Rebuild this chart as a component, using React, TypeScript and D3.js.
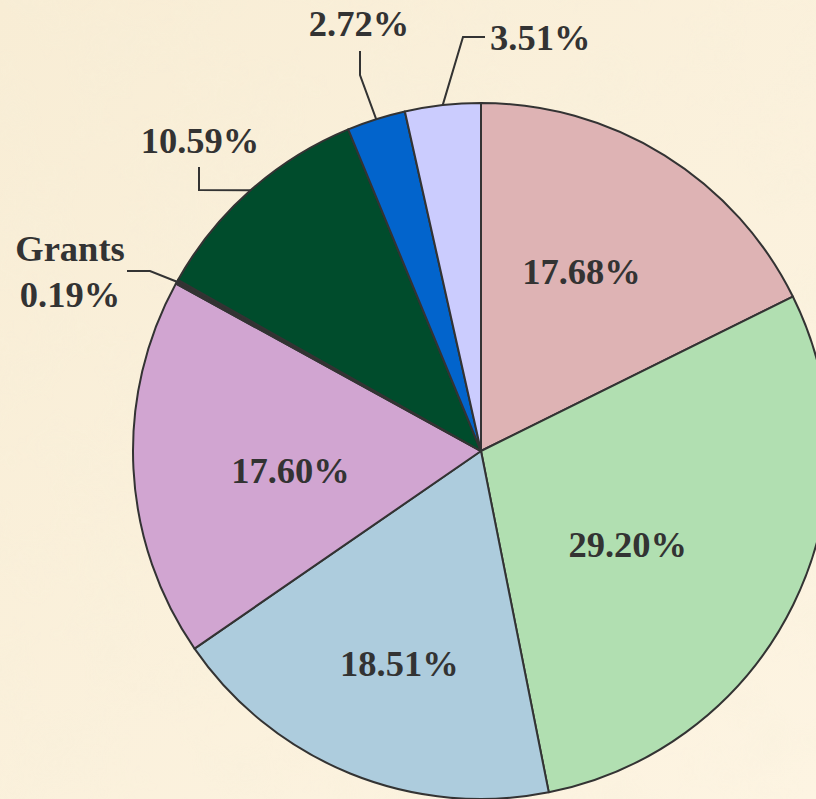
import React from 'react';
import * as d3 from 'd3';

// ---- data ----
const categories = ['Slice A', 'Slice B', 'Slice C', 'Slice D', 'Grants', 'Slice F', 'Slice G', 'Slice H'];
const values = [17.68, 29.2, 18.51, 17.6, 0.19, 10.59, 2.72, 3.51];
const valueLabels = ['17.68%', '29.20%', '18.51%', '17.60%', '0.19%', '10.59%', '2.72%', '3.51%'];
const nameLabels = ['', '', '', '', 'Grants', '', '', ''];
const colors = ['#DEB3B4', '#B1DFB1', '#ADCCDD', '#D1A5D1', '#333333', '#004C2C', '#0264CC', '#CBCCFE'];

// ---- layout ----
const W = 816;
const H = 799;
const CX = 481;
const CY = 451;
const R = 348;
const FONT = '"Liberation Serif", "Times New Roman", serif';
const FS = 36.5;
const TEXT = '#333333';

// inner label placement (fraction of radius, angle tweak in degrees)
const innerPlace: Record<number, { rf: number; da: number }> = {
  0: { rf: 0.59, da: -2.5 },
  1: { rf: 0.5, da: 6.3 },
  2: { rf: 0.655, da: -1.1 },
  3: { rf: 0.55, da: -2.8 },
};

// outer (callout) label layout: elbow, end of leader, text anchor
const outer: Record<number, { elbow: [number, number]; end: [number, number]; tx: number; ty: number; anchor: 'start' | 'middle' | 'end' }> = {
  4: { elbow: [150, 271], end: [127, 271], tx: 70, ty: 261, anchor: 'middle' },
  5: { elbow: [199, 190], end: [199, 167], tx: 200, ty: 153, anchor: 'middle' },
  6: { elbow: [360, 75], end: [360, 51], tx: 359, ty: 36, anchor: 'middle' },
  7: { elbow: [463, 37], end: [485, 37], tx: 490, ty: 50, anchor: 'start' },
};

export default function App() {
  const pie = d3
    .pie<number>()
    .sort(null)
    .value((d) => d)
    .startAngle(0)
    .endAngle(2 * Math.PI);
  const arcs = pie(values);
  const arc = d3.arc<d3.PieArcDatum<number>>().innerRadius(0).outerRadius(R);

  return (
    <svg
      width={W}
      height={H}
      viewBox={`0 0 ${W} ${H}`}
      style={{ position: 'absolute', left: 0, top: 0, display: 'block' }}
    >
      <defs>
        <linearGradient id="bgGrad" x1="0" y1="0" x2="1" y2="1">
          <stop offset="0" stopColor="#F8EDD5" />
          <stop offset="1" stopColor="#FDF4E2" />
        </linearGradient>
        <filter id="paper" x="0" y="0" width="100%" height="100%">
          <feTurbulence type="fractalNoise" baseFrequency="0.014" numOctaves={4} seed={7} result="noise" />
          <feColorMatrix
            in="noise"
            type="matrix"
            values="0 0 0 0 0.91  0 0 0 0 0.86  0 0 0 0 0.70  0 0 0 1.1 -0.47"
          />
        </filter>
      </defs>
      <rect x={0} y={0} width={W} height={H} fill="url(#bgGrad)" />
      <rect x={0} y={0} width={W} height={H} filter="url(#paper)" opacity={0.45} />

      <g transform={`translate(${CX},${CY})`}>
        {arcs.map((a, i) => (
          <path
            key={categories[i]}
            d={arc(a) || ''}
            fill={colors[i]}
            stroke="#333333"
            strokeWidth={2}
            strokeLinejoin="round"
          />
        ))}
      </g>

      {/* inner labels */}
      {arcs.map((a, i) => {
        const p = innerPlace[i];
        if (!p) return null;
        const ang = (a.startAngle + a.endAngle) / 2 + (p.da * Math.PI) / 180;
        const rr = R * p.rf;
        const x = CX + rr * Math.sin(ang);
        const y = CY - rr * Math.cos(ang);
        return (
          <text
            key={'in' + i}
            x={x}
            y={y}
            textAnchor="middle"
            dominantBaseline="central"
            fontFamily={FONT}
            fontWeight="bold"
            fontSize={FS}
            fill={TEXT}
          >
            {valueLabels[i]}
          </text>
        );
      })}

      {/* callout labels */}
      {arcs.map((a, i) => {
        const o = outer[i];
        if (!o) return null;
        const mid = (a.startAngle + a.endAngle) / 2;
        const sx = CX + R * Math.sin(mid);
        const sy = CY - R * Math.cos(mid);
        const line = d3.line()([[sx, sy], o.elbow, o.end]);
        return (
          <g key={'out' + i}>
            <path d={line || ''} fill="none" stroke="#333333" strokeWidth={2} />
            <text
              x={o.tx}
              y={o.ty}
              textAnchor={o.anchor}
              fontFamily={FONT}
              fontWeight="bold"
              fontSize={FS}
              fill={TEXT}
            >
              {nameLabels[i] ? (
                <>
                  <tspan x={o.tx} y={o.ty}>{nameLabels[i]}</tspan>
                  <tspan x={o.tx} y={o.ty + 46}>{valueLabels[i]}</tspan>
                </>
              ) : (
                valueLabels[i]
              )}
            </text>
          </g>
        );
      })}
    </svg>
  );
}
